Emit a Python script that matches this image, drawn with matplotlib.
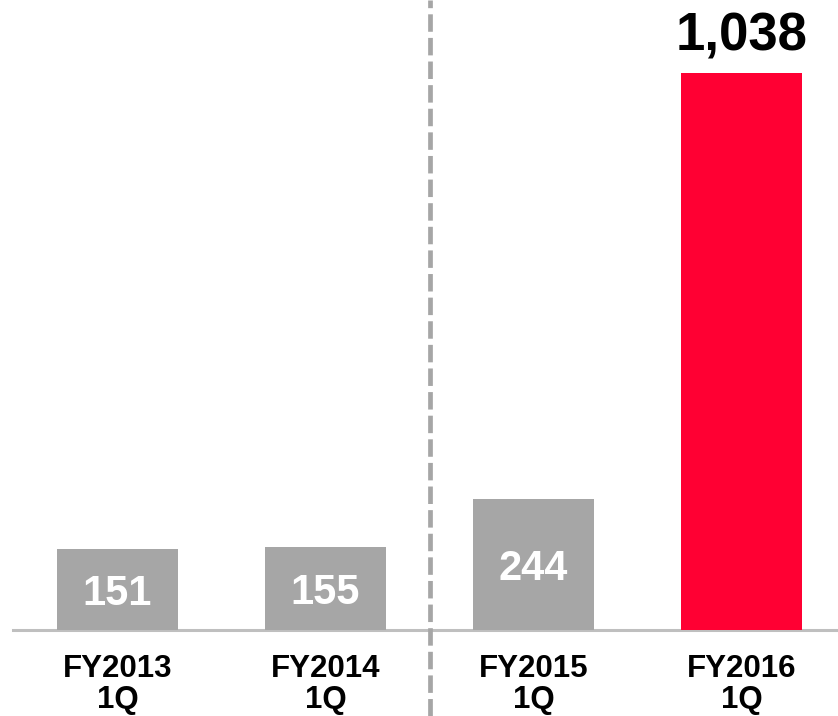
import matplotlib
matplotlib.use("Agg")
import matplotlib.pyplot as plt

categories = ["FY2013\n1Q", "FY2014\n1Q", "FY2015\n1Q", "FY2016\n1Q"]
values = [151, 155, 244, 1038]
value_labels = ["151", "155", "244", "1,038"]
bar_colors = ["#A6A6A6", "#A6A6A6", "#A6A6A6", "#FF0033"]

plt.rcParams['font.family'] = ['Liberation Sans', 'DejaVu Sans']

fig = plt.figure(figsize=(8.38, 7.16), dpi=100)
ax = fig.add_axes([0, 0, 1, 1])

x = list(range(len(values)))
bars = ax.bar(x, values, width=0.582, color=bar_colors, zorder=2)

# scale: baseline 630px from top, 1038 -> 557px
ax.set_xlim(-0.565, 3.464)
ax.set_ylim(-160.3, 1174.1)
ax.axis("off")

# baseline
ax.axhline(0, xmin=0.0155, xmax=1, color="#BFBFBF", lw=2.2, zorder=1)

# separator between past and current year
ax.axvline(1.5, color="#A6A6A6", lw=3.4, dashes=(3.7, 1.3), zorder=1)

for xi, v, lab, c in zip(x, values, value_labels, bar_colors):
    if v > 500:
        ax.text(xi, v + 42, lab, ha="center", va="baseline",
                fontsize=38, fontweight="bold", color="black")
    else:
        ax.text(xi, v / 2, lab, ha="center", va="center_baseline",
                fontsize=30, fontweight="bold", color="white")

for xi, cat in zip(x, categories):
    l1, l2 = cat.split("\n")
    ax.text(xi, -87.5, l1, ha="center", va="baseline",
            fontsize=22.5, fontweight="bold", color="black")
    ax.text(xi, -146, l2, ha="center", va="baseline",
            fontsize=22.5, fontweight="bold", color="black")

fig.savefig("out.png", dpi=100)
